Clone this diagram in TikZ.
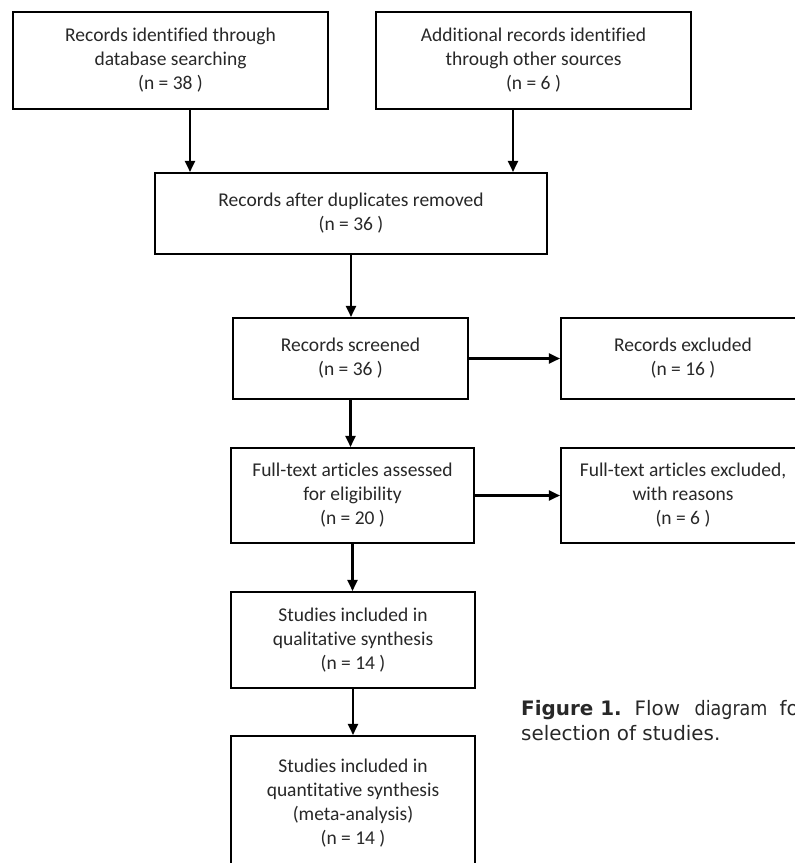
\documentclass[tikz,border=0pt]{standalone}
\usepackage{fontspec}
\setmainfont{Carlito}[Ligatures=CommonOff]
\newfontfamily\capfont{DejaVu Sans}
\newfontfamily\capfontn{DejaVu Sans}[FakeStretch=0.88]
\usetikzlibrary{arrows.meta}
\definecolor{txt}{RGB}{40,40,40}
\begin{document}
\begin{tikzpicture}[x=1pt,y=-1pt,
  box/.style={draw=black, line width=2.1pt, align=center, inner sep=0pt,
    font=\fontsize{19.5}{24}\selectfont, text=txt},
  arr/.style={line width=2.1pt, -{Triangle[length=11pt,width=10pt]}},
  captxt/.style={anchor=base west, inner sep=0pt, text=txt,
    font=\capfont\fontsize{19.9}{25}\selectfont}]
\useasboundingbox (0,0) rectangle (795,863);
\fill[white] (0,0) rectangle (795,863);
\node[box, minimum width=315pt, minimum height=97pt] (b1) at (170.5,60.5)
  {Records identified through\\database searching\\(n = 38 )};
\node[box, minimum width=315pt, minimum height=97pt] (b2) at (533.5,60.5)
  {Additional records identified\\through other sources\\(n = 6 )};
\node[box, minimum width=392pt, minimum height=81pt] (b3) at (351,213.5)
  {Records after duplicates removed\\(n = 36 )};
\node[box, minimum width=235pt, minimum height=81pt] (b4) at (350.5,358.5)
  {Records screened\\(n = 36 )};
\node[box, minimum width=244pt, minimum height=81pt] (b5) at (683,358.5)
  {Records excluded\\(n = 16 )};
\node[box, minimum width=243pt, minimum height=95pt] (b6) at (352.5,495.5)
  {Full-text articles assessed\\for eligibility\\(n = 20 )};
\node[box, minimum width=244pt, minimum height=95pt] (b7) at (683,495.5)
  {Full-text articles excluded,\\with reasons\\(n = 6 )};
\node[box, minimum width=244pt, minimum height=96pt] (b8) at (353,640)
  {Studies included in\\qualitative synthesis\\(n = 14 )};
\node[box, minimum width=244pt, minimum height=134pt] (b9) at (353,803)
  {Studies included in\\quantitative synthesis\\(meta-analysis)\\(n = 14 )};
\draw[arr] ([xshift=19.5pt]b1.south) -- ([xshift=19.5pt]b1.south |- b3.north);
\draw[arr] ([xshift=-20.5pt]b2.south) -- ([xshift=-20.5pt]b2.south |- b3.north);
\draw[arr] (b3.south) -- (b3.south |- b4.north);
\draw[arr] (b4.east) -- (b4.east -| b5.west);
\draw[arr] (b4.south) -- (b4.south |- b6.north);
\draw[arr] (b6.east) -- (b6.east -| b7.west);
\draw[arr] (b6.south) -- (b6.south |- b8.north);
\draw[arr] (b8.south) -- (b8.south |- b9.north);
\node[captxt] (cap1) at (521,715)
  {\textbf{Figure 1.}\hspace{13pt}Flow\hspace{14.6pt}{\capfontn diagram}\hspace{12pt}fo};
\node[captxt] (cap2) at (521,740) {selection of studies.};
\end{tikzpicture}
\end{document}
